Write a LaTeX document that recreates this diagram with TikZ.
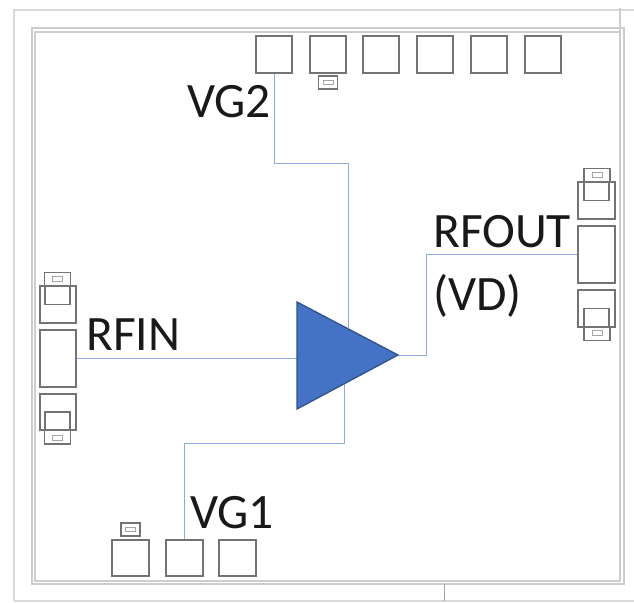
\documentclass[tikz,border=0pt]{standalone}
\usepackage{fontspec}
\setmainfont{Carlito}
\usetikzlibrary{positioning}
\definecolor{padgray}{RGB}{115,115,115}
\definecolor{framegray}{RGB}{205,205,205}
\definecolor{wireblue}{RGB}{143,170,220}
\definecolor{ampblue}{RGB}{68,114,196}
\definecolor{ampedge}{RGB}{47,82,143}
\tikzset{
    pad/.style={draw=padgray, line width=1.6pt, minimum width=36.5pt, minimum height=36.5pt, inner sep=0pt},
    tallpad/.style={pad, minimum height=57pt},
    capbox/.style={draw=padgray, line width=1.1pt, minimum width=19pt, minimum height=13pt, inner sep=0pt},
    widecap/.style={capbox, minimum width=26pt, minimum height=14pt},
    capslot/.style={draw=padgray!65, line width=0.9pt, minimum width=10pt, minimum height=4.5pt, inner sep=0pt},
    sidebox/.style={draw=padgray, line width=1.1pt, minimum width=25pt, minimum height=18pt, inner sep=0pt},
    wire/.style={draw=wireblue, line width=0.8pt},
    frameline/.style={draw=framegray, line width=1.1pt},
    outerline/.style={draw=framegray!75, line width=1.1pt},
    lbl/.style={font=\fontsize{49.5}{50}\selectfont, text=black!90, inner sep=0pt}
}
\begin{document}
\begin{tikzpicture}[x=1pt, y=-1pt]
    \useasboundingbox (0,0) rectangle (634,602);

    % 1. Frames
    \draw[outerline] (14,601) -- (14,10) -- (634,10);
    \draw[outerline] (14,601) -- (634,601);
    \draw[frameline] (32,28) rectangle (624,584);
    \draw[frameline] (35,32) rectangle (620,581);
    \draw[frameline] (620,8) -- (620,32);
    \draw[draw=framegray!80!black, line width=0.8pt] (444,584) -- (444,601);

    % 2. Top pads
    \node[pad] (top1) at (274,54.5) {};
    \node[pad] (top2) at (328,54.5) {};
    \node[pad] (top3) at (381,54.5) {};
    \node[pad] (top4) at (435,54.5) {};
    \node[pad] (top5) at (489,54.5) {};
    \node[pad] (top6) at (543,54.5) {};
    \node[capbox] (topcap) at (328,82.5) {};
    \node[capslot] (topslot) at (328,82.5) {};

    % 3. Bottom pads
    \node[pad] (bot1) at (130.5,558) {};
    \node[pad] (bot2) at (184.5,558) {};
    \node[pad] (bot3) at (237.5,558) {};
    \node[capbox] (botcap) at (130.5,529.5) {};
    \node[capslot] (botslot) at (130.5,529.5) {};

    % 4. Left pads
    \node[tallpad] (rfinpad) at (58,358.5) {};
    \node[pad] (leftup) at (58,304.5) {};
    \node[pad] (leftdn) at (58,412) {};
    \node[sidebox] (leftupin) at (57.5,295.5) {};
    \node[sidebox] (leftdnin) at (57.5,421) {};
    \node[widecap] (leftupcap) at (57.5,279.5) {};
    \node[capslot] (leftupslot) at (57.5,279) {};
    \node[widecap] (leftdncap) at (57.5,437) {};
    \node[capslot] (leftdnslot) at (57.5,438) {};

    % 5. Right pads
    \node[tallpad] (rfoutpad) at (596.5,254.5) {};
    \node[pad] (rightup) at (596.5,200.5) {};
    \node[pad] (rightdn) at (596.5,308.5) {};
    \node[sidebox] (rightupin) at (596.5,191.5) {};
    \node[sidebox] (rightdnin) at (596.5,317.5) {};
    \node[widecap] (rightupcap) at (597,175.5) {};
    \node[capslot] (rightupslot) at (597,175) {};
    \node[widecap] (rightdncap) at (597,333.5) {};
    \node[capslot] (rightdnslot) at (597,333) {};

    % 6. Amplifier and wires
    \coordinate (ampa) at (297,302);
    \coordinate (ampb) at (297,409);
    \coordinate (ampc) at (398,355);
    \coordinate (vgtwoin) at (348,328);
    \coordinate (vgonein) at (344,382);
    \coordinate (rfinend) at (297,358.5);

    \draw[wire] (top1.south) -- (274,163) -- (348,163) -- (vgtwoin);
    \draw[wire] (bot2.north) -- (184.5,443) -- (344,443) -- (vgonein);
    \draw[wire] (rfinpad.east) -- (rfinend);
    \draw[wire] (ampc) -- (426,355) -- (426,254.5) -- (rfoutpad.west);
    \fill[ampblue, draw=ampedge, line width=1.3pt, line join=miter] (ampa) -- (ampc) -- (ampb) -- cycle;

    % 7. Labels
    \node[lbl, anchor=base west] (vgtwo) at (187,117) {VG2};
    \node[lbl, anchor=base west] (vgone) at (190,528) {VG1};
    \node[lbl, anchor=base west] (rfin) at (86,350) {RFIN};
    \node[lbl, anchor=base west] (rfout) at (433,247) {RFOUT};
    \node[lbl, anchor=base west] (vd) at (433,310) {(VD)};
\end{tikzpicture}
\end{document}
